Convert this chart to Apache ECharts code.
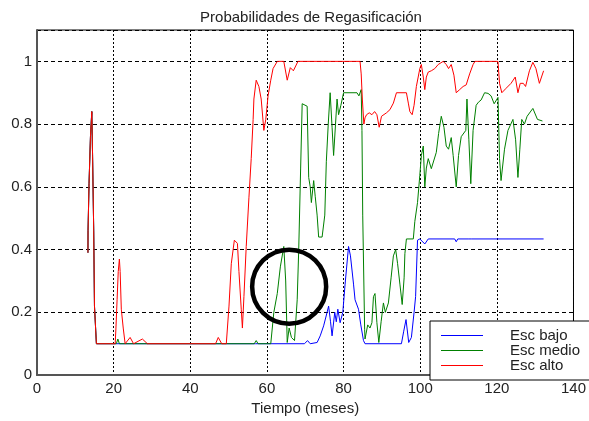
<!DOCTYPE html>
<html>
<head>
<meta charset="utf-8">
<script src="https://cdn.jsdelivr.net/npm/echarts@6/dist/echarts.min.js"></script>
<style>html,body{margin:0;padding:0;background:#fff;}#c{width:589px;height:421px;}</style>
</head>
<body>
<div id="c"></div>
<script>
const titleText = 'Probabilidades de Regasificación';
const xName = 'Tiempo (meses)';
const seriesNames = ['Esc bajo', 'Esc medio', 'Esc alto'];
const seriesColors = ['#0000ff', '#008000', '#ff0000'];

const spike = [[13.3,0.39],[13.32,0.46],[13.55,0.46],[13.58,0.61],[13.9,0.61],[13.95,0.76],[14.15,0.76],[14.3,0.84],[14.5,0.70],[14.75,0.70],[14.8,0.46],[14.95,0.46],[15.0,0.22],[15.3,0.22],[15.5,0.10]];

const bajo = spike.concat([[20.8,0.1],[21.1,0.105],[21.4,0.1],[56.2,0.1],[56.6,0.105],[57.0,0.1],[69.8,0.1],[70.6,0.11],[71.3,0.1],[73.1,0.104],[73.9,0.125],[74.8,0.157],[75.7,0.2],[76.1,0.22],[76.6,0.17],[77.0,0.125],[77.7,0.2],[78.1,0.17],[78.5,0.21],[79.1,0.167],[79.8,0.2],[80.4,0.29],[81.3,0.41],[81.8,0.38],[82.6,0.29],[83.0,0.24],[83.9,0.21],[84.5,0.16],[85.2,0.11],[85.6,0.1],[95.1,0.1],[95.7,0.14],[96.3,0.177],[97.0,0.104],[97.7,0.12],[98.4,0.2],[98.8,0.25],[99.3,0.43],[99.9,0.434],[100.4,0.44],[101.2,0.418],[102.1,0.434],[109.0,0.434],[109.4,0.425],[109.8,0.434],[112.5,0.434],[112.9,0.428],[113.3,0.434],[132.2,0.434]]);

const medio = spike.concat([[20.7,0.10],[21.1,0.115],[21.5,0.10],[56.7,0.10],[57.2,0.11],[57.7,0.10],[61.0,0.10],[61.8,0.2],[62.7,0.26],[63.5,0.345],[64.4,0.41],[64.9,0.30],[65.3,0.104],[65.8,0.15],[66.4,0.12],[67.2,0.11],[67.9,0.24],[68.3,0.40],[68.8,0.66],[69.2,0.865],[70.5,0.857],[70.9,0.63],[71.3,0.60],[71.6,0.55],[72.2,0.62],[72.6,0.57],[73.1,0.51],[73.5,0.44],[74.4,0.44],[75.1,0.51],[75.5,0.68],[76.0,0.80],[76.5,0.9],[77.0,0.79],[77.4,0.70],[77.9,0.80],[78.3,0.88],[78.7,0.83],[79.3,0.86],[80.0,0.9],[83.5,0.9],[84.0,0.89],[84.6,0.91],[84.8,0.78],[85.0,0.51],[85.5,0.146],[85.6,0.115],[86.3,0.16],[86.9,0.15],[87.4,0.167],[87.8,0.25],[88.2,0.26],[88.7,0.167],[89.2,0.104],[89.8,0.17],[90.4,0.23],[90.9,0.2],[91.7,0.23],[92.4,0.31],[93.0,0.38],[93.6,0.40],[94.1,0.355],[94.7,0.29],[95.3,0.225],[95.8,0.31],[96.0,0.387],[96.4,0.434],[98.2,0.434],[98.6,0.49],[99.3,0.55],[99.9,0.637],[100.3,0.70],[100.8,0.73],[101.2,0.60],[101.6,0.66],[102.1,0.69],[102.9,0.658],[103.4,0.653],[104.2,0.71],[104.8,0.77],[105.5,0.825],[106.2,0.79],[106.8,0.73],[107.4,0.72],[108.1,0.757],[108.6,0.70],[109.4,0.60],[110.0,0.70],[110.7,0.76],[111.9,0.78],[112.2,0.88],[112.7,0.75],[113.2,0.61],[113.8,0.78],[114.6,0.86],[115.2,0.87],[115.9,0.877],[116.8,0.9],[117.7,0.898],[118.5,0.89],[119.3,0.865],[120.3,0.885],[120.7,0.69],[121.1,0.62],[122.0,0.72],[122.9,0.78],[124.2,0.815],[124.9,0.75],[125.5,0.63],[126.0,0.72],[126.5,0.815],[127.2,0.80],[127.9,0.825],[129.4,0.85],[130.6,0.815],[131.9,0.81]]);

const alto = spike.concat([[20.4,0.10],[20.6,0.15],[20.9,0.24],[21.2,0.33],[21.5,0.37],[21.7,0.33],[22.0,0.21],[22.5,0.15],[23.0,0.10],[24.3,0.12],[25.2,0.10],[27.5,0.115],[28.8,0.10],[46.6,0.10],[47.3,0.12],[48.2,0.10],[49.4,0.10],[50.1,0.22],[50.7,0.355],[51.5,0.43],[52.3,0.42],[52.7,0.33],[53.3,0.21],[53.6,0.15],[54.0,0.25],[54.6,0.41],[55.3,0.565],[55.9,0.69],[56.4,0.815],[56.6,0.88],[57.2,0.94],[57.9,0.92],[58.5,0.88],[59.2,0.78],[59.7,0.815],[60.3,0.89],[61.0,0.94],[61.6,0.977],[62.7,1.0],[64.4,1.0],[65.3,0.94],[66.1,0.98],[66.9,0.97],[68.1,1.0],[84.3,1.0],[84.6,0.96],[84.9,0.88],[85.3,0.80],[85.6,0.82],[86.0,0.83],[86.7,0.836],[87.4,0.83],[88.1,0.84],[88.7,0.83],[89.3,0.79],[89.9,0.825],[91.2,0.836],[92.1,0.846],[93.0,0.867],[93.8,0.9],[96.4,0.9],[96.9,0.867],[97.3,0.84],[97.9,0.83],[98.4,0.86],[99.0,0.92],[99.9,0.977],[100.3,0.99],[100.8,0.95],[101.2,0.91],[101.6,0.95],[102.1,0.966],[102.9,0.97],[103.8,0.977],[104.7,0.99],[106.0,1.0],[106.8,0.99],[107.4,0.977],[108.1,0.99],[108.8,0.956],[109.4,0.90],[110.3,0.91],[111.2,0.92],[112.0,0.925],[112.9,0.96],[113.8,0.99],[114.3,1.0],[120.3,1.0],[120.7,0.93],[121.3,0.90],[122.4,0.914],[123.7,0.93],[124.8,0.95],[125.5,0.90],[126.1,0.93],[126.9,0.93],[127.5,0.92],[128.5,0.97],[129.4,0.997],[130.2,0.977],[131.1,0.93],[132.2,0.97]]);

const circleMark = [[65.8, 0.282]];

const xTicks = [0, 20, 40, 60, 80, 100, 120, 140];
const yTicks = [0, 0.2, 0.4, 0.6, 0.8, 1];

const font = 'Liberation Sans, Arial, sans-serif';
const chart = echarts.init(document.getElementById('c'), null, {renderer: 'canvas'});
const dataSets = [bajo, medio, alto];
const lineSeries = seriesNames.map((n, i) => ({
  name: n, type: 'line', data: dataSets[i], showSymbol: false, symbol: 'none',
  lineStyle: {color: seriesColors[i], width: 1}, itemStyle: {color: seriesColors[i]},
  animation: false, z: 3 + i
}));
lineSeries.push({
  name: 'circle', type: 'scatter', data: circleMark, symbol: 'circle', symbolSize: 74,
  itemStyle: {color: 'rgba(0,0,0,0)', borderColor: '#000', borderWidth: 4.5, opacity: 1},
  silent: true, animation: false, z: 10
});

chart.setOption({
  backgroundColor: '#fff',
  animation: false,
  title: {text: titleText, left: 306, top: 5, textAlign: 'center',
    textStyle: {fontFamily: font, fontSize: 15, fontWeight: 'normal', color: '#222'}},
  grid: {left: 37, right: 13, top: 30, bottom: 41, show: true, borderColor: '#000', borderWidth: 1, backgroundColor: '#fff'},
  legend: {
    data: seriesNames.map((n, i) => ({name: n, itemStyle: {color: seriesColors[i], borderWidth: 0}})),
    orient: 'vertical', left: 430, top: 321,
    itemWidth: 42, itemHeight: 1, itemGap: 0, icon: 'rect',
    padding: [7, 30, 7, 11], backgroundColor: '#fff', borderColor: '#000', borderWidth: 1,
    textStyle: {fontFamily: font, fontSize: 15, color: '#222', padding: [0, 0, 0, 22], lineHeight: 15}
  },
  xAxis: {
    type: 'value', min: 0, max: 140, interval: 20,
    name: xName, nameLocation: 'middle', nameGap: 25,
    nameTextStyle: {fontFamily: font, fontSize: 15, color: '#222'},
    axisLine: {show: true, lineStyle: {color: '#555', width: 2}},
    axisTick: {show: false},
    axisLabel: {fontFamily: font, fontSize: 15, color: '#222', margin: 6,
      formatter: v => xTicks.includes(v) ? String(v) : ''},
    splitLine: {show: true, lineStyle: {color: '#000', type: [2, 2], width: 1}}
  },
  yAxis: {
    type: 'value', min: 0, max: 1.1, interval: 0.2,
    axisLine: {show: true, lineStyle: {color: '#555', width: 2}},
    axisTick: {show: false},
    axisLabel: {fontFamily: font, fontSize: 15, color: '#222', margin: 5, showMaxLabel: false,
      formatter: v => { const r = Math.round(v * 10) / 10; return yTicks.some(t => Math.abs(t - r) < 1e-9) && Math.abs(v - r) < 1e-6 ? String(r) : ''; }},
    splitLine: {show: true, lineStyle: {color: '#000', type: [4, 3], width: 1}}
  },
  series: lineSeries
});
</script>
</body>
</html>
